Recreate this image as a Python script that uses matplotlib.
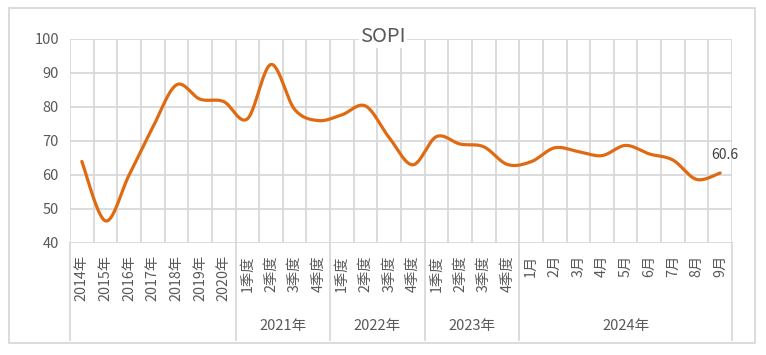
import numpy as np
import matplotlib.pyplot as plt
from matplotlib.patches import Rectangle

plt.rcParams['font.family'] = ['Noto Sans CJK SC', 'DejaVu Sans']

# category labels
years = ["2014年", "2015年", "2016年", "2017年", "2018年", "2019年", "2020年"]
quarters = ["1季度", "2季度", "3季度", "4季度"]
months = ["1月", "2月", "3月", "4月", "5月", "6月", "7月", "8月", "9月"]
tick_labels = years + quarters * 3 + months
group_labels = ["", "2021年", "2022年", "2023年", "2024年"]
group_sizes = [7, 4, 4, 4, 9]

# SOPI values
sopi = [64.0, 46.5, 60.0, 74.0, 86.5, 82.3, 81.6,
        76.5, 92.5, 79.3, 76.0,
        77.7, 80.3, 71.0, 63.0,
        71.3, 69.1, 68.3, 63.1,
        63.9, 68.0, 66.9, 65.7, 68.7, 66.2, 64.4, 58.7, 60.6]

GRID = '#D9D9D9'
TEXT = '#595959'
ORANGE = '#E06A12'


def smooth(x, y, n=30):
    # Excel style smoothed line (Catmull-Rom through the points)
    px = np.concatenate([[x[0]], x, [x[-1]]])
    py = np.concatenate([[y[0]], y, [y[-1]]])
    t = np.linspace(0, 1, n)[:, None]
    xs, ys = [], []
    for i in range(1, len(px) - 2):
        p0 = np.array([px[i], py[i]])
        p3 = np.array([px[i + 1], py[i + 1]])
        c1 = p0 + (p3 - np.array([px[i - 1], py[i - 1]])) / 6
        c2 = p3 - (np.array([px[i + 2], py[i + 2]]) - p0) / 6
        b = ((1 - t) ** 3) * p0 + 3 * ((1 - t) ** 2) * t * c1 + 3 * (1 - t) * t ** 2 * c2 + t ** 3 * p3
        xs.append(b[:, 0])
        ys.append(b[:, 1])
    return np.concatenate(xs), np.concatenate(ys)


fig = plt.figure(figsize=(7.66, 3.55), dpi=100)
ax = fig.add_axes([70 / 766, 1 - 243 / 355, 662 / 766, 204 / 355])

n = len(sopi)
x = np.arange(n)
sx, sy = smooth(x, np.array(sopi))
ax.plot(sx, sy, color=ORANGE, lw=2.3, solid_capstyle='round', zorder=3)
ax.annotate(f"{sopi[-1]}", (x[-1], sopi[-1]), xytext=(3, 13), textcoords='offset points',
            ha='center', va='center', fontsize=10, color='#404040')

ax.set_xlim(-0.5, n - 0.5)
ax.set_ylim(40, 100)
ax.set_yticks(range(40, 101, 10))
ax.set_xticks([])
for v in range(40, 101, 10):
    ax.axhline(v, color=GRID, lw=1.3, zorder=1)
for b in np.arange(-0.5, n, 1):
    ax.axvline(b, color=GRID, lw=1.3, zorder=1)
for s in ax.spines.values():
    s.set_visible(False)
ax.tick_params(axis='y', length=0, pad=8, labelsize=10.5, labelcolor=TEXT)

# multi level category axis
tr = ax.get_xaxis_transform()
for i, lab in enumerate(tick_labels):
    ax.text(i, -0.06, lab, transform=tr, rotation=90, ha='center', va='top',
            fontsize=10.3, color=TEXT)
start = 0
bounds = [-0.5]
for lab, size in zip(group_labels, group_sizes):
    if lab:
        ax.text(start + (size - 1) / 2, -0.405, lab, transform=tr, ha='center', va='center',
                fontsize=10.5, color=TEXT)
    start += size
    bounds.append(start - 0.5)
for b in bounds:
    ax.plot([b, b], [0, -0.475], transform=tr, color=GRID, lw=1.3, clip_on=False)

fig.text(0.5, 1 - 36 / 355, "SOPI", ha='center', va='center', fontsize=14.5, color=TEXT,
         bbox=dict(facecolor='white', edgecolor='none', pad=1), zorder=5)

fig.patches.append(Rectangle((9 / 766, 1 - 343 / 355), 746 / 766, 335 / 355,
                             transform=fig.transFigure, fill=False, edgecolor=GRID, lw=1.3))

fig.savefig('out.png', dpi=100)
